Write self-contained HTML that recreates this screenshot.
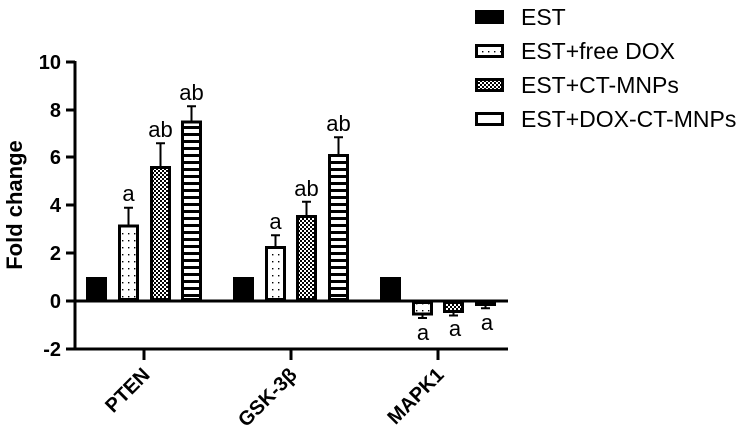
<!DOCTYPE html>
<html><head><meta charset="utf-8"><style>
html,body{margin:0;padding:0;background:#fff}
svg{display:block}
text{font-family:"Liberation Sans",Arial,sans-serif;fill:#000}
</style></head><body>
<svg width="747" height="434" viewBox="0 0 747 434" xmlns="http://www.w3.org/2000/svg">
<defs>
<pattern id="dots" width="6" height="7" patternUnits="userSpaceOnUse"><rect width="6" height="7" fill="#fff"/><rect x="2" y="2" width="1.4" height="1.4" fill="#000"/></pattern>
<pattern id="chk" width="4" height="4" patternUnits="userSpaceOnUse"><rect width="4" height="4" fill="#fff"/><rect width="2" height="2" fill="#000"/><rect x="2" y="2" width="2" height="2" fill="#000"/></pattern>
<pattern id="str" width="6" height="7" patternUnits="userSpaceOnUse"><rect width="6" height="7" fill="#fff"/><rect width="6" height="3" fill="#000"/></pattern>
</defs>
<g stroke="#000" stroke-width="3" fill="none">
<line x1="75" y1="61" x2="75" y2="350"/>
<line x1="66" y1="62" x2="75" y2="62"/><line x1="66" y1="110" x2="75" y2="110"/><line x1="66" y1="157" x2="75" y2="157"/><line x1="66" y1="205" x2="75" y2="205"/><line x1="66" y1="253" x2="75" y2="253"/><line x1="66" y1="301" x2="75" y2="301"/><line x1="66" y1="349" x2="75" y2="349"/>
<line x1="74" y1="301" x2="508" y2="301"/>
<line x1="74" y1="349" x2="508" y2="349"/>
<line x1="144" y1="349" x2="144" y2="360"/><line x1="291" y1="349" x2="291" y2="360"/><line x1="438" y1="349" x2="438" y2="360"/>
</g>
<g stroke="#000" stroke-width="3">
<rect x="87.5" y="278.5" width="18" height="21" fill="#000"/>
<rect x="119.5" y="226" width="18" height="73.5" fill="url(#dots)"/>
<rect x="151.5" y="167.5" width="18" height="132" fill="url(#chk)"/>
<rect x="182.5" y="122" width="18" height="177.5" fill="url(#str)"/>
<rect x="234.5" y="278.5" width="18" height="21" fill="#000"/>
<rect x="266.5" y="247.5" width="18" height="52" fill="url(#dots)"/>
<rect x="297.5" y="216.5" width="18" height="83" fill="url(#chk)"/>
<rect x="329.5" y="155.5" width="18" height="144" fill="url(#str)"/>
<rect x="381.5" y="278.5" width="18" height="21" fill="#000"/>
<rect x="413.5" y="302.5" width="18" height="11.5" fill="url(#dots)"/>
<rect x="444.5" y="302.5" width="18" height="9" fill="url(#chk)"/>
<rect x="476.5" y="302.5" width="18" height="2" fill="url(#str)"/>
</g>
<g stroke="#000" stroke-width="2" fill="none">
<path d="M128.5 224.5V207.8M124 207.8H133"/>
<path d="M160.5 166V143.3M156 143.3H165"/>
<path d="M191.5 120.6V106.2M187 106.2H196"/>
<path d="M275.5 246V235.3M271 235.3H280"/>
<path d="M306.5 215V201.8M302 201.8H311"/>
<path d="M338.5 154V137.3M334 137.3H343"/>
<path d="M422.5 315V318M418 318H427"/>
<path d="M453.5 313V315.5M449 315.5H458"/>
<path d="M485.5 305.8V308.2M481 308.2H490"/>
</g>
<g font-size="22" text-anchor="middle">
<text x="128.5" y="201">a</text>
<text x="160.5" y="137">ab</text>
<text x="191.5" y="100">ab</text>
<text x="275.5" y="229">a</text>
<text x="306.5" y="196">ab</text>
<text x="338.5" y="131">ab</text>
<text x="423" y="340">a</text>
<text x="455" y="336">a</text>
<text x="487" y="330">a</text>
</g>
<g font-size="20" font-weight="bold" text-anchor="end">
<text x="61" y="69">10</text><text x="61" y="117">8</text><text x="61" y="164">6</text><text x="61" y="212">4</text><text x="61" y="260">2</text><text x="61" y="308">0</text><text x="61" y="356">-2</text>
</g>
<text transform="translate(22,205) rotate(-90)" font-size="22" font-weight="bold" text-anchor="middle">Fold change</text>
<g font-size="20" font-weight="bold" text-anchor="end">
<text transform="translate(151,376) rotate(-45)">PTEN</text>
<text transform="translate(298,376) rotate(-45)">GSK-3β</text>
<text transform="translate(445,376) rotate(-45)">MAPK1</text>
</g>
<g stroke="#000" stroke-width="3">
<rect x="476.5" y="11.5" width="26" height="11" fill="#000"/>
<rect x="476.5" y="45.5" width="26" height="11" fill="url(#dots)"/>
<rect x="476.5" y="79.5" width="26" height="11" fill="url(#chk)"/>
<rect x="476.5" y="113.5" width="26" height="11" fill="#fff"/>
</g>
<g font-size="23">
<text x="521" y="25">EST</text>
<text x="521" y="59">EST+free DOX</text>
<text x="521" y="93">EST+CT-MNPs</text>
<text x="521" y="127">EST+DOX-CT-MNPs</text>
</g>
</svg>
</body></html>
